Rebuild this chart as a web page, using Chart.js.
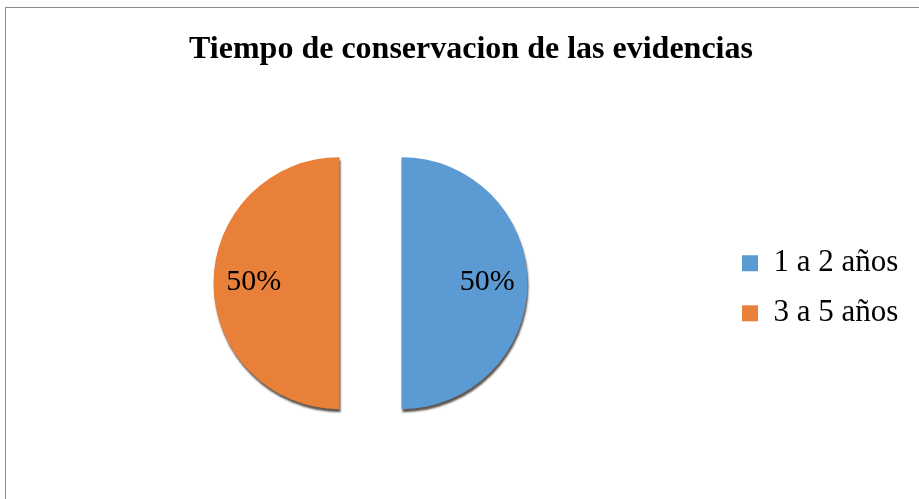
<!DOCTYPE html>
<html>
<head>
<meta charset="utf-8">
<script src="https://cdn.jsdelivr.net/npm/chart.js@4.4.1/dist/chart.umd.min.js"></script>
<style>
  html, body { margin: 0; padding: 0; width: 919px; height: 499px; overflow: hidden; background: #fff; }
  #frame { position: absolute; left: 5px; top: 7px; width: 940px; height: 520px; border: 1px solid #8c8c8c; box-sizing: border-box; }
  #wrap { position: absolute; left: 0; top: 0; width: 934px; height: 499px; }
</style>
</head>
<body>
<div id="frame"></div>
<div id="wrap"><canvas id="c" width="934" height="499"></canvas></div>
<script>
const titleText = "Tiempo de conservacion de las evidencias";
const categories = ["1 a 2 años", "3 a 5 años"];
const values = [50, 50];
const colors = ["#5B9AD2", "#E8803A"];

const SERIF = '"Liberation Serif", "Times New Roman", serif';
const EXPLODE = 31; // px each slice is pulled out from the centre

// widen the legend box so the pie sits left of it as in the reference
const legendLayoutPlugin = {
  id: 'legendLayout',
  beforeLayout(chart) {
    const lg = chart.legend;
    if (lg && !lg._patched) {
      const orig = lg.fit;
      lg.fit = function () {
        orig.call(this);
        this.width = Math.max(this.width, 201);
      };
      lg._patched = true;
    }
  },
  afterLayout(chart) {
    const lg = chart.legend;
    if (lg) { lg.top += 5; lg.bottom += 5; }
  }
};

// draw each slice exploded by a parallel translation, with a soft 3D-like shadow
const explodePlugin = {
  id: 'explode3d',
  beforeDatasetDraw(chart, args) {
    const ctx = chart.ctx;
    const meta = args.meta;
    ctx.save();
    ctx.shadowColor = 'rgba(40,30,20,0.75)';
    ctx.shadowOffsetX = 1;
    ctx.shadowOffsetY = 3;
    ctx.shadowBlur = 2;
    meta.data.forEach(arc => {
      const p = arc.getProps(['startAngle', 'endAngle'], true);
      const mid = (p.startAngle + p.endAngle) / 2;
      ctx.save();
      ctx.translate(Math.cos(mid) * EXPLODE, Math.sin(mid) * EXPLODE);
      arc.draw(ctx, chart.chartArea);
      ctx.restore();
    });
    ctx.restore();
    return false;
  }
};

const labelPlugin = {
  id: 'pctLabels',
  afterDatasetsDraw(chart) {
    const ctx = chart.ctx;
    const meta = chart.getDatasetMeta(0);
    const data = chart.data.datasets[0].data;
    const total = data.reduce((a, b) => a + b, 0);
    ctx.save();
    ctx.font = '30px ' + SERIF;
    ctx.fillStyle = '#000';
    ctx.textAlign = 'center';
    ctx.textBaseline = 'middle';
    meta.data.forEach((arc, i) => {
      const p = arc.getProps(['x', 'y', 'startAngle', 'endAngle', 'outerRadius'], true);
      const mid = (p.startAngle + p.endAngle) / 2;
      const d = EXPLODE + p.outerRadius * 0.68;
      const pct = Math.round(data[i] / total * 100) + '%';
      ctx.fillText(pct, p.x + Math.cos(mid) * d, p.y - 1 + Math.sin(mid) * d);
    });
    ctx.restore();
  }
};

new Chart(document.getElementById('c'), {
  type: 'pie',
  data: {
    labels: categories,
    datasets: [{
      data: values,
      backgroundColor: colors,
      hoverBackgroundColor: colors,
      borderWidth: 0,
      radius: 126
    }]
  },
  options: {
    responsive: false,
    animation: false,
    events: [],
    layout: { padding: { left: 18, right: 10, top: 0, bottom: 12 } },
    plugins: {
      title: {
        display: true,
        text: titleText,
        color: '#000',
        font: { family: SERIF, size: 32, weight: 'bold' },
        padding: { top: 31, bottom: 10 }
      },
      legend: {
        position: 'right',
        fullSize: false,
        labels: {
          color: '#000',
          boxWidth: 16,
          boxHeight: 16,
          padding: 19,
          font: { family: SERIF, size: 31 }
        }
      },
      tooltip: { enabled: false }
    }
  },
  plugins: [legendLayoutPlugin, explodePlugin, labelPlugin]
});
</script>
</body>
</html>
